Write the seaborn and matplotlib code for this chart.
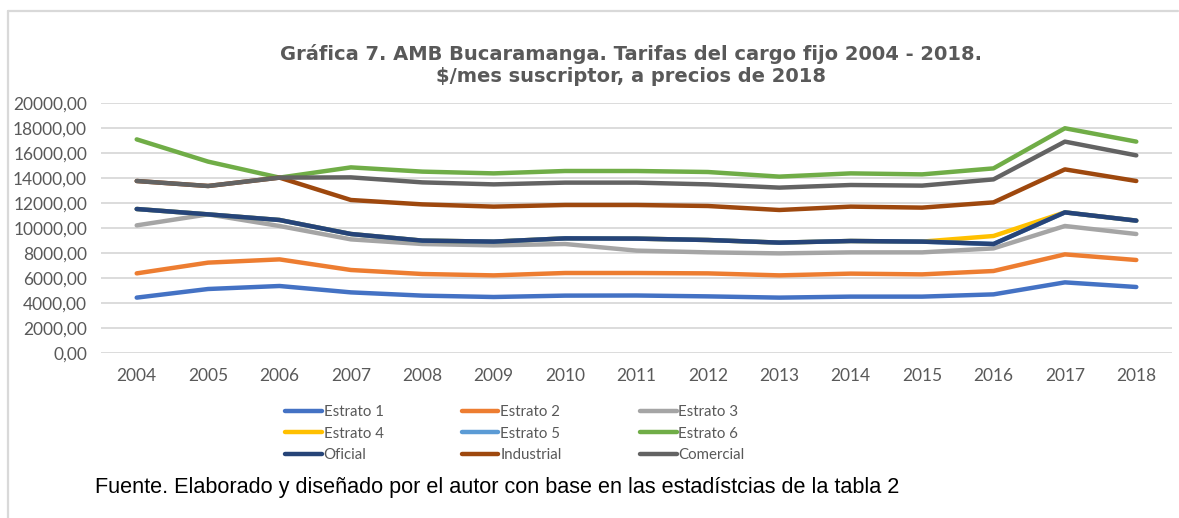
import matplotlib
matplotlib.use("Agg")
import matplotlib.pyplot as plt
import seaborn as sns
import pandas as pd
from matplotlib.ticker import FuncFormatter, MultipleLocator
from matplotlib.lines import Line2D

years = list(range(2004, 2019))
estrato1 = [4430, 5120, 5360, 4850, 4590, 4480, 4590, 4600, 4530, 4430, 4510, 4510, 4690, 5650, 5280]
estrato2 = [6370, 7230, 7490, 6640, 6320, 6210, 6400, 6400, 6370, 6210, 6350, 6290, 6560, 7890, 7440]
estrato3 = [10210, 11090, 10160, 9090, 8720, 8610, 8720, 8190, 8050, 7970, 8050, 8050, 8370, 10160, 9520]
estrato4 = [11520, 11090, 10640, 9520, 8990, 8910, 9170, 9150, 9040, 8830, 8960, 8910, 9360, 11250, 10590]
estrato5 = [11520, 11090, 10640, 9520, 8990, 8910, 9170, 9150, 9040, 8830, 8960, 8910, 8720, 11250, 10590]
estrato6 = [17090, 15310, 14030, 14850, 14510, 14370, 14560, 14560, 14480, 14110, 14370, 14290, 14770, 17980, 16910]
oficial = [11520, 11090, 10640, 9520, 8990, 8910, 9170, 9150, 9040, 8830, 8960, 8910, 8720, 11250, 10590]
industrial = [13760, 13360, 14030, 12240, 11890, 11710, 11840, 11840, 11760, 11440, 11710, 11630, 12050, 14690, 13760]
comercial = [13760, 13360, 14030, 14050, 13650, 13490, 13630, 13630, 13490, 13230, 13440, 13390, 13890, 16910, 15810]

series_names = ["Estrato 1", "Estrato 2", "Estrato 3", "Estrato 4", "Estrato 5",
                "Estrato 6", "Oficial", "Industrial", "Comercial"]
series_values = [estrato1, estrato2, estrato3, estrato4, estrato5,
                 estrato6, oficial, industrial, comercial]
colors = ["#4472C4", "#ED7D31", "#A5A5A5", "#FFC000", "#5B9BD5",
          "#70AD47", "#264478", "#9E480E", "#636363"]

title = "Gráfica 7. AMB Bucaramanga. Tarifas del cargo fijo 2004 - 2018.\n$/mes suscriptor, a precios de 2018"
source = "Fuente. Elaborado y diseñado por el autor con base en las estadístcias de la tabla 2"

rows = []
for name, vals in zip(series_names, series_values):
    for y, v in zip(years, vals):
        rows.append({"Año": y, "Valor": v, "Serie": name})
df = pd.DataFrame(rows)

sns.set_theme(style="white")
plt.rcParams["font.family"] = ["Liberation Sans", "DejaVu Sans"]

fig = plt.figure(figsize=(11.79, 5.18), dpi=100)
ax = fig.add_axes([101 / 1179, 1 - 353 / 518, (1172 - 101) / 1179, 250 / 518])

sns.lineplot(data=df, x="Año", y="Valor", hue="Serie", hue_order=series_names,
             palette=colors, linewidth=3.2, ax=ax, legend=False, sort=False)
for ln in ax.lines:
    ln.set_solid_capstyle("round")
    ln.set_solid_joinstyle("round")

ax.set_xlim(2003.5, 2018.5)
ax.set_ylim(0, 20000)
ax.yaxis.set_major_locator(MultipleLocator(2000))
ax.set_xticks(years)
ax.yaxis.set_major_formatter(FuncFormatter(lambda v, p: f"{v:.2f}".replace(".", ",")))
ax.set_xlabel("")
ax.set_ylabel("")
ax.grid(axis="y", color="#D9D9D9", linewidth=1.3)
ax.grid(axis="x", visible=False)
ax.set_axisbelow(True)
for s in ax.spines.values():
    s.set_visible(False)
ax.tick_params(axis="both", length=0, labelsize=12.5, labelcolor="#595959")
ax.tick_params(axis="y", pad=10)
ax.tick_params(axis="x", pad=11)
for lbl in ax.get_xticklabels() + ax.get_yticklabels():
    lbl.set_family(["Lato", "DejaVu Sans"])

# legend, row-wise order in 3 columns
order = [0, 3, 6, 1, 4, 7, 2, 5, 8]
handles = [Line2D([0], [0], color=colors[i], linewidth=3.2, solid_capstyle="round") for i in order]
labels = [series_names[i] for i in order]
leg = fig.legend(handles, labels, ncol=3, loc="upper left",
                 bbox_to_anchor=(285 / 1179, 1 - 405 / 518), frameon=False,
                 prop={"family": ["Lato", "DejaVu Sans"], "size": 10.8},
                 handlelength=2.45, handletextpad=0.13, columnspacing=5.2,
                 labelspacing=0.5, borderaxespad=0, borderpad=0)
for t in leg.get_texts():
    t.set_color("#595959")

fig.text(631 / 1179, 1 - 65 / 518, title, ha="center", va="center",
         fontsize=14, fontweight="bold", color="#595959", linespacing=1.2,
         family=["DejaVu Sans"])
fig.text(95 / 1179, 1 - 488 / 518, source, ha="left", va="center",
         fontsize=15.6, color="#000000")

# light gray border
fig.add_artist(Line2D([8 / 1179, 8 / 1179], [0, 1 - 11 / 518], transform=fig.transFigure,
                      color="#D9D9D9", linewidth=1.6))
fig.add_artist(Line2D([8 / 1179, 1178 / 1179], [1 - 11 / 518, 1 - 11 / 518], transform=fig.transFigure,
                      color="#D9D9D9", linewidth=1.6))

fig.savefig("out.png", dpi=100)
